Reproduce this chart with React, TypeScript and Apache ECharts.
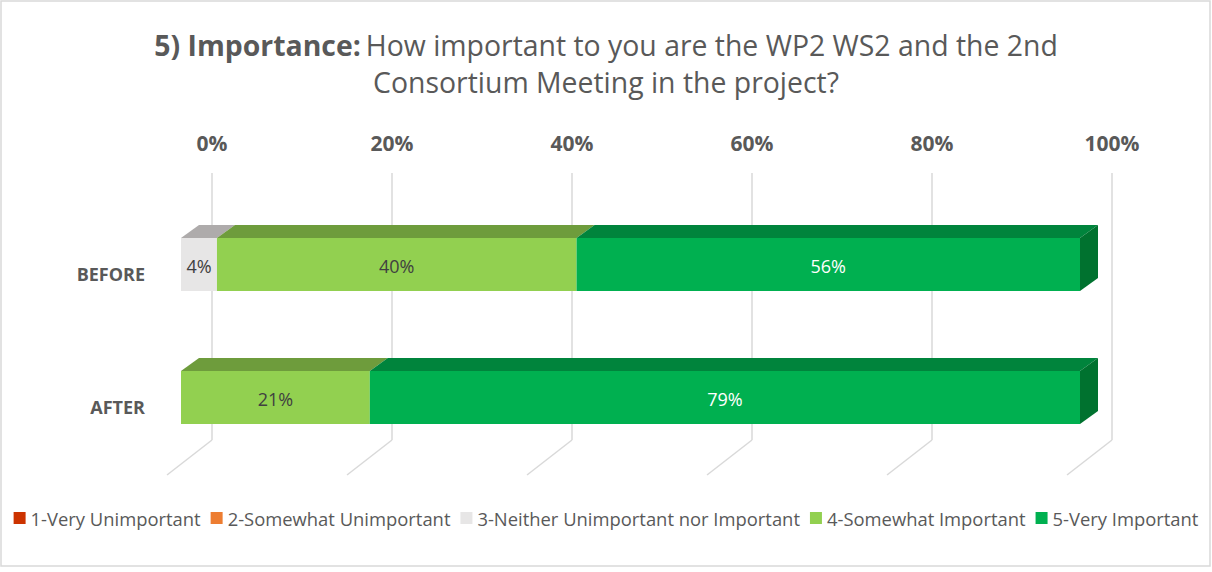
import React, { useEffect, useRef } from "react";
import * as echarts from "echarts";

const categories = ["BEFORE", "AFTER"];
const seriesNames = [
  "1-Very Unimportant",
  "2-Somewhat Unimportant",
  "3-Neither Unimportant nor Important",
  "4-Somewhat Important",
  "5-Very Important",
];
const veryUnimportant = [0, 0];
const somewhatUnimportant = [0, 0];
const neitherNor = [4, 0];
const somewhatImportant = [40, 21];
const veryImportant = [56, 79];
const tickValues = [0, 20, 40, 60, 80, 100];

const frontColors = ["#cc3300", "#ed7d31", "#e7e6e6", "#92d050", "#00b050"];
const topColors = ["#99260a", "#b35e25", "#aeabab", "#6e9c3c", "#00843c"];
const sideColors = ["#8a2207", "#a4561f", "#9d9a9a", "#5f8a33", "#00722f"];
const labelColors = ["#ffffff", "#ffffff", "#404040", "#404040", "#ffffff"];

const FONT = "'Open Sans', Lato, sans-serif";
const DX = 18;
const DY = 13;

export default function App() {
  const ref = useRef<HTMLDivElement>(null);
  useEffect(() => {
    if (!ref.current) return;
    const chart = echarts.init(ref.current, undefined, { renderer: "svg" });
    const all = [veryUnimportant, somewhatUnimportant, neitherNor, somewhatImportant, veryImportant];

    const series: any[] = all.map((vals, s) => {
      const data = vals.map((v, c) => {
        let start = 0;
        for (let k = 0; k < s; k++) start += all[k][c];
        let isLast = 1;
        for (let k = s + 1; k < all.length; k++) if (all[k][c] > 0) isLast = 0;
        return [start, c, v, isLast];
      });
      return {
        type: "custom",
        name: seriesNames[s],
        xAxisIndex: 0,
        yAxisIndex: 0,
        itemStyle: { color: frontColors[s] },
        encode: { x: 0, y: 1 },
        z: 5,
        data,
        renderItem: (params: any, api: any) => {
          const start = api.value(0);
          const cat = api.value(1);
          const val = api.value(2);
          const isLast = api.value(3);
          if (!val) return { type: "group", children: [] };
          const p0 = api.coord([start, cat]);
          const p1 = api.coord([start + val, cat]);
          const band = api.size([0, 1])[1];
          const h = band * 0.4;
          const top = p0[1] - h / 2;
          const children: any[] = [
            {
              type: "polygon",
              shape: {
                points: [
                  [p0[0], top],
                  [p1[0], top],
                  [p1[0] + DX, top - DY],
                  [p0[0] + DX, top - DY],
                ],
              },
              style: { fill: topColors[s] },
            },
            {
              type: "rect",
              shape: { x: p0[0], y: top, width: p1[0] - p0[0], height: h },
              style: { fill: frontColors[s] },
            },
          ];
          if (isLast) {
            children.push({
              type: "polygon",
              shape: {
                points: [
                  [p1[0], top],
                  [p1[0] + DX, top - DY],
                  [p1[0] + DX, top - DY + h],
                  [p1[0], top + h],
                ],
              },
              style: { fill: sideColors[s] },
            });
          }
          children.push({
            type: "text",
            style: {
              text: val + "%",
              x: (p0[0] + p1[0]) / 2,
              y: p0[1] + 1,
              align: "center",
              verticalAlign: "middle",
              fill: labelColors[s],
              font: `18px ${FONT}`,
            },
          });
          return { type: "group", children };
        },
      };
    });

    series.push({
      type: "custom",
      name: "floor",
      xAxisIndex: 1,
      yAxisIndex: 1,
      z: 1,
      silent: true,
      encode: { x: 0 },
      data: tickValues.map((v) => [v, 0]),
      renderItem: (params: any, api: any) => {
        const p = api.coord([api.value(0), 0]);
        return {
          type: "line",
          shape: { x1: p[0], y1: p[1], x2: p[0] - 45, y2: p[1] + 35 },
          style: { stroke: "#d9d9d9", lineWidth: 1.5 },
        };
      },
    });

    chart.setOption({
      animation: false,
      backgroundColor: "#ffffff",
      title: {
        left: "center",
        top: 21,
        text: "{b|5) Importance:} {n|How important to you are the WP2 WS2 and the 2nd}\n{n|Consortium Meeting in the project?}",
        textStyle: {
          rich: {
            b: { fontFamily: FONT, fontSize: 28.4, fontWeight: "bold", color: "#595959", lineHeight: 37 },
            n: { fontFamily: FONT, fontSize: 28.4, fontWeight: "normal", color: "#595959", lineHeight: 37 },
          },
        },
      },
      legend: {
        data: seriesNames,
        top: 504,
        left: "center",
        icon: "rect",
        itemWidth: 12,
        itemHeight: 12,
        itemGap: 10,
        textStyle: { fontFamily: FONT, fontSize: 18.4, color: "#595959" },
      },
      grid: [
        { left: 181, right: 132, top: 198, bottom: 108, containLabel: false },
        { left: 212, right: 100, top: 173, bottom: 132, containLabel: false },
      ],
      xAxis: [
        { type: "value", gridIndex: 0, min: 0, max: 100, show: false },
        {
          type: "value",
          gridIndex: 1,
          min: 0,
          max: 100,
          interval: 20,
          position: "top",
          axisLine: { show: false },
          axisTick: { show: false },
          splitLine: { show: true, lineStyle: { color: "#d9d9d9", width: 1.5 } },
          axisLabel: {
            formatter: "{value}%",
            margin: 20,
            fontFamily: FONT,
            fontSize: 21,
            fontWeight: "bold",
            color: "#595959",
          },
        },
      ],
      yAxis: [
        {
          type: "category",
          gridIndex: 0,
          data: categories,
          inverse: true,
          axisLine: { show: false },
          axisTick: { show: false },
          splitLine: { show: false },
          axisLabel: {
            margin: 36,
            verticalAlign: "top",
            fontFamily: FONT,
            fontSize: 18,
            fontWeight: "bold",
            color: "#595959",
          },
        },
        { type: "value", gridIndex: 1, min: 0, max: 1, show: false },
      ],
      graphic: [
        {
          type: "rect",
          shape: { x: 1, y: 1, width: 1209, height: 565 },
          style: { fill: "none", stroke: "#d9d9d9", lineWidth: 1.5 },
          silent: true,
          z: -1,
        },
      ],
      series,
    });
    return () => chart.dispose();
  }, []);
  return (
    <div style={{ position: "fixed", left: 0, top: 0, width: 1212, height: 572 }}>
      <div ref={ref} style={{ width: 1212, height: 572 }} />
    </div>
  );
}
